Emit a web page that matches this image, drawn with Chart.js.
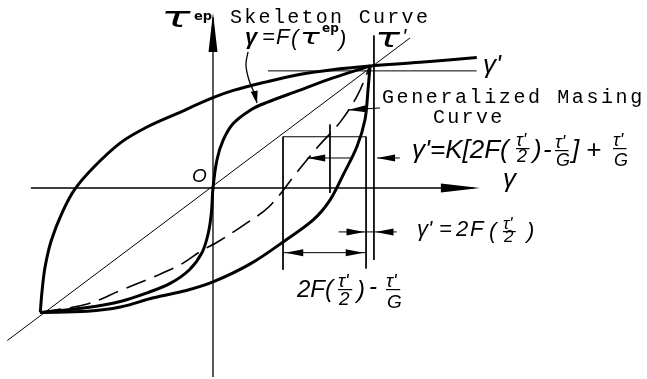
<!DOCTYPE html>
<html>
<head>
<meta charset="utf-8">
<script src="https://cdn.jsdelivr.net/npm/chart.js@4.4.1/dist/chart.umd.min.js"></script>
<style>
  html, body { margin: 0; padding: 0; background: #fff; }
  #wrap { width: 647px; height: 379px; }
</style>
</head>
<body>
<div id="wrap"><canvas id="chart"></canvas></div>
<script>
// strain γ in units of γ', stress τ in units of τ'
const upperBranch = [
  [-1.10, -1.02], [-1.09, -0.86], [-1.07, -0.65], [-1.03, -0.43], [-0.96, -0.20],
  [-0.88, -0.01], [-0.76, 0.17], [-0.59, 0.37], [-0.42, 0.50], [-0.23, 0.61],
  [0, 0.74], [0.13, 0.80], [0.34, 0.87], [0.55, 0.93], [0.76, 0.97],
  [1, 1], [1.32, 1.03], [1.68, 1.07],
];
const lowerBranch = [
  [-1.10, -1.02], [-0.80, -1.01], [-0.59, -0.975], [-0.38, -0.90], [-0.17, -0.84],
  [0, -0.77], [0.24, -0.62], [0.46, -0.43], [0.64, -0.26], [0.745, -0.10],
  [0.83, 0.11], [0.917, 0.34], [0.968, 0.56], [0.987, 0.80], [1, 1],
];
const skeleton = [
  [-1.10, -1.02], [-0.80, -0.98], [-0.59, -0.93], [-0.42, -0.86], [-0.27, -0.78],
  [-0.15, -0.67], [-0.07, -0.53], [-0.03, -0.37], [-0.01, -0.20],
  [0, 0], [0.025, 0.23], [0.064, 0.39], [0.13, 0.53],
  [0.24, 0.64], [0.34, 0.70], [0.55, 0.80], [0.76, 0.90], [1, 1],
];
const masing = [
  [-1.10, -1.02], [-0.80, -0.95], [-0.59, -0.84], [-0.38, -0.73], [-0.21, -0.63],
  [-0.08, -0.52], [0.045, -0.43], [0.20, -0.30], [0.36, -0.15], [0.535, 0.13],
  [0.67, 0.34], [0.81, 0.54], [0.92, 0.76], [1, 1],
];
const elasticLine = [[-1.31, -1.25], [1.255, 1.23]];
const gammaAxis = [[-1.16, 0], [1.66, 0]];
const tauAxis = [[0, -1.55], [0, 1.40]];
const leaderF = [[0.223, 1.115], [0.21, 1.01], [0.229, 0.885], [0.268, 0.762], [0.28, 0.70]];

// thin construction lines
const guides = [
  [[0.35, 0.96], [1.68, 0.96]],     // γ'
  [[1.025, 1.25], [1.025, -0.59]],  // τ'
  [[0.975, 0.42], [0.975, -0.66]],
  [[0.446, 0.42], [0.975, 0.42]],
  [[0.446, 0.42], [0.446, -0.67]],
  [[0.745, 0.52], [0.745, -0.04]],
  [[0.60, 0.246], [0.885, 0.246]],
  [[1.045, 0.246], [1.19, 0.246]],
  [[0.80, -0.36], [1.17, -0.36]],
  [[0.446, -0.53], [0.975, -0.53]],
  [[1.064, 0.656], [0.86, 0.64]],
];

// arrowheads: tail x, tail y, tip x, tip y, kind
const arrowHeads = [
  [1.40, 0, 1.70, 0, "axis"],
  [0, 1.20, 0, 1.434, "axis"],
  [0.75, 0.246, 0.60, 0.246, "dim"],
  [1.19, 0.246, 1.045, 0.246, "dim"],
  [0.80, -0.36, 0.965, -0.36, "dim"],
  [1.17, -0.36, 1.035, -0.36, "dim"],
  [0.70, -0.53, 0.46, -0.53, "dim"],
  [0.70, -0.53, 0.96, -0.53, "dim"],
  [1.064, 0.656, 0.86, 0.64, "dim"],
  [0.268, 0.762, 0.28, 0.69, "small"],
];

const pts = (arr) => arr.map(([x, y]) => ({ x, y }));

function line(data, width, extra) {
  return Object.assign({
    data: pts(data),
    showLine: true,
    borderColor: "#000",
    borderWidth: width,
    pointRadius: 0,
    tension: 0,
    fill: false,
  }, extra || {});
}

const datasets = [
  line(gammaAxis, 1.3),
  line(tauAxis, 1.3),
  line(elasticLine, 1),
  ...guides.map((g) => line(g, 1)),
  line(leaderF, 1.3, { tension: 0.4 }),
  line(masing, 1.6, { tension: 0.35, borderDash: [21, 9] }),
  line(skeleton, 3, { tension: 0.35 }),
  line(lowerBranch, 3, { tension: 0.35 }),
  line(upperBranch, 3, { tension: 0.35 }),
];

const HEADS = {
  axis: [39, 4.5],
  dim: [18, 3.5],
  small: [13, 3.5],
};

function wideGlyph(ctx, ch, x, base, font, sx) {
  ctx.save();
  ctx.font = font;
  ctx.translate(x, base);
  ctx.scale(sx, 1);
  ctx.fillText(ch, 0, 0);
  ctx.restore();
}

function mono(ctx, str, x, base, adv) {
  ctx.font = '20px "Liberation Mono"';
  [...str].forEach((c, i) => ctx.fillText(c, x + i * adv, base));
}

function frac(ctx, num, den, x, nb, db, size) {
  ctx.font = `italic ${size}px "Liberation Sans"`;
  ctx.fillText(num, x, nb);
  ctx.fillText(den, x + 1, db);
  ctx.fillRect(x, nb + 2, size * 0.75, 1.2);
}

function drawLabels(ctx) {
  ctx.fillStyle = "#000";
  ctx.textAlign = "left";
  ctx.textBaseline = "alphabetic";

  // ordinate label τ^ep
  wideGlyph(ctx, "τ", 161, 27, 'italic 28px "DejaVu Sans"', 1.75);
  ctx.font = 'bold 13px "DejaVu Sans"';
  ctx.fillText("ep", 194, 20);

  mono(ctx, "Skeleton Curve", 230, 23, 14.3);

  // γ = F(τ^ep)
  ctx.font = 'italic bold 22px "Liberation Sans"';
  ctx.fillText("γ", 245, 44);
  ctx.font = 'italic 22px "Liberation Sans"';
  ctx.fillText("=", 262, 44);
  ctx.fillText("F", 276, 44);
  ctx.fillText("(", 291, 45);
  wideGlyph(ctx, "τ", 300, 44, 'italic 22px "DejaVu Sans"', 1.5);
  ctx.font = 'bold 12px "DejaVu Sans"';
  ctx.fillText("ep", 322, 32);
  ctx.font = 'italic 22px "Liberation Sans"';
  ctx.fillText(")", 339, 46);

  // τ' and γ' at the reversal point
  wideGlyph(ctx, "τ", 375, 47, 'italic 26px "DejaVu Sans"', 1.6);
  ctx.font = 'italic 22px "Liberation Sans"';
  ctx.fillText("'", 402, 44);
  ctx.font = 'italic 26px "Liberation Sans"';
  ctx.fillText("γ'", 483, 73);
  ctx.fillText("γ", 503, 187);

  ctx.font = 'italic 19px "Liberation Sans"';
  ctx.fillText("O", 192, 182);

  mono(ctx, "Generalized Masing", 382, 103, 14.6);
  mono(ctx, "Curve", 433, 123, 14.3);

  // γ' = K[2F(τ'/2) - τ'/G] + τ'/G
  ctx.font = 'italic 26px "Liberation Sans"';
  ctx.fillText("γ'=K[2F(", 412, 158);
  frac(ctx, "τ'", "2", 516, 146, 162, 18);
  ctx.font = 'italic 26px "Liberation Sans"';
  ctx.fillText(")", 533, 158);
  ctx.fillText("-", 543, 158);
  frac(ctx, "τ'", "G", 555, 148, 166, 18);
  ctx.font = 'italic 26px "Liberation Sans"';
  ctx.fillText("]", 572, 158);
  ctx.fillText("+", 586, 158);
  frac(ctx, "τ'", "G", 613, 146, 166, 18);

  // γ' = 2F(τ'/2)
  ctx.font = 'italic 22px "Liberation Sans"';
  ctx.fillText("γ'", 417, 236);
  ctx.fillText("=", 439, 236);
  ctx.fillText("2", 456, 236);
  ctx.fillText("F", 470, 236);
  ctx.fillText("(", 489, 238);
  frac(ctx, "τ'", "2", 503, 229, 242, 17);
  ctx.font = 'italic 22px "Liberation Sans"';
  ctx.fillText(")", 527, 238);

  // 2F(τ'/2) - τ'/G
  ctx.font = 'italic 24px "Liberation Sans"';
  ctx.fillText("2F(", 297, 297);
  frac(ctx, "τ'", "2", 338, 287, 305, 19);
  ctx.font = 'italic 24px "Liberation Sans"';
  ctx.fillText(")", 357, 298);
  ctx.fillText("-", 369, 294);
  frac(ctx, "τ'", "G", 386, 287, 308, 19);
}

const sketchPlugin = {
  id: "sketch",
  afterDatasetsDraw(chart) {
    const { ctx, scales: { x, y } } = chart;
    ctx.save();
    ctx.fillStyle = "#000";
    arrowHeads.forEach(([x1, y1, x2, y2, kind]) => {
      const [len, hw] = HEADS[kind];
      const tx = x.getPixelForValue(x2), ty = y.getPixelForValue(y2);
      const fx = x.getPixelForValue(x1), fy = y.getPixelForValue(y1);
      const a = Math.atan2(ty - fy, tx - fx);
      const bx = tx - len * Math.cos(a), by = ty - len * Math.sin(a);
      ctx.beginPath();
      ctx.moveTo(tx, ty);
      ctx.lineTo(bx + hw * Math.sin(a), by - hw * Math.cos(a));
      ctx.lineTo(bx - hw * Math.sin(a), by + hw * Math.cos(a));
      ctx.closePath();
      ctx.fill();
    });
    drawLabels(ctx);
    ctx.restore();
  },
};

new Chart(document.getElementById("chart"), {
  type: "scatter",
  data: { datasets },
  options: {
    responsive: true,
    maintainAspectRatio: false,
    animation: false,
    layout: { padding: 0 },
    plugins: { legend: { display: false }, tooltip: { enabled: false } },
    scales: {
      x: { type: "linear", display: false, min: -213 / 157, max: 434 / 157 },
      y: { type: "linear", display: false, min: -191 / 122, max: 188 / 122 },
    },
  },
  plugins: [sketchPlugin],
});
</script>
</body>
</html>
